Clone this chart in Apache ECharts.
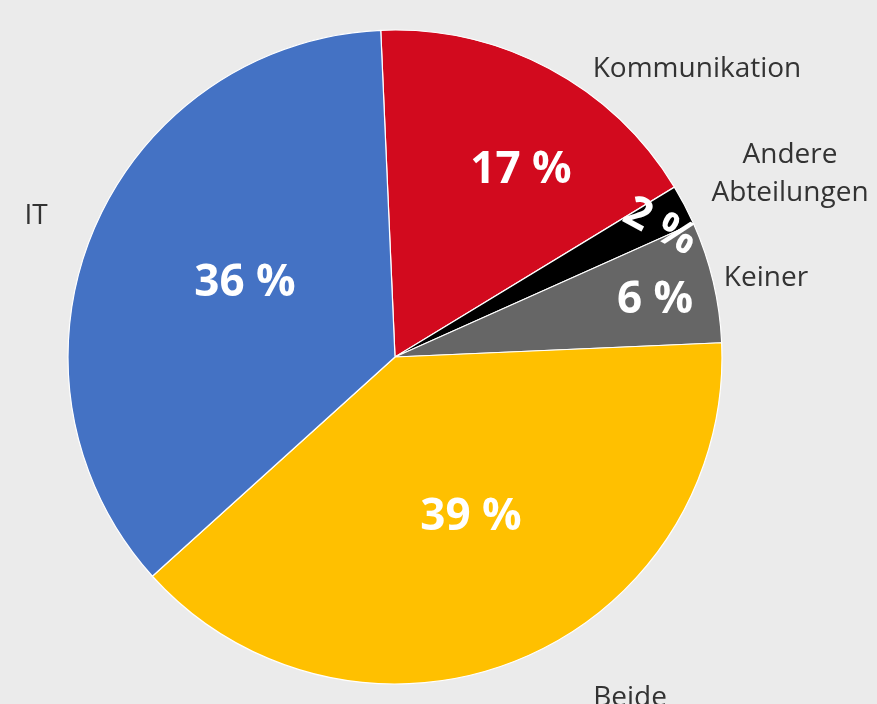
<!DOCTYPE html>
<html>
<head>
<meta charset="utf-8">
<script src="https://cdn.jsdelivr.net/npm/echarts@6/dist/echarts.min.js"></script>
<style>
  html, body { margin: 0; padding: 0; background: #ebebeb; }
  #chart { width: 877px; height: 704px; }
</style>
</head>
<body>
<div id="chart"></div>
<script>
// Anteile (im Uhrzeigersinn ab oben)
const kategorien = ["Kommunikation", "Andere\nAbteilungen", "Keiner", "Beide", "IT"];
const anteile = [17, 2, 6, 39, 36];
const farben = ["#d20a1e", "#000000", "#666666", "#ffc000", "#4472c4"];

// Position der Beschriftungen
const posInnen = [[521, 170], [660, 227], [655, 300], [471, 517], [245, 283]];
const drehungInnen = [0, -28, 0, 0, 0];
const posAussen = [[697, 69], [790, 174], [766, 278], [630, 698], [36, 216]];

const daten = kategorien.map((k, i) => ({
  name: k,
  value: anteile[i],
  itemStyle: { color: farben[i] }
}));

const chart = echarts.init(document.getElementById("chart"));
const option = {
  backgroundColor: "#ebebeb",
  animation: false,
  series: [
    {
      type: "pie",
      center: [395, 357],
      radius: 327,
      startAngle: 92.5,
      clockwise: true,
      avoidLabelOverlap: false,
      data: daten,
      itemStyle: { borderColor: "#ffffff", borderWidth: 1.2 },
      label: {
        show: true,
        position: "inside",
        formatter: p => p.value + " %",
        color: "#ffffff",
        fontFamily: "Open Sans",
        fontWeight: "bold",
        fontSize: 44
      },
      labelLine: { show: false },
      labelLayout: p => ({
        x: posInnen[p.dataIndex][0],
        y: posInnen[p.dataIndex][1],
        align: "center",
        verticalAlign: "middle",
        rotate: drehungInnen[p.dataIndex]
      })
    },
    {
      type: "pie",
      center: [395, 357],
      radius: 327,
      startAngle: 92.5,
      silent: true,
      avoidLabelOverlap: false,
      data: kategorien.map((k, i) => ({ name: k, value: anteile[i] })),
      itemStyle: { color: "transparent", borderWidth: 0 },
      label: {
        show: true,
        position: "outside",
        formatter: "{b}",
        color: "#333333",
        fontFamily: "Open Sans",
        fontSize: 28,
        lineHeight: 38,
        align: "center"
      },
      labelLine: { show: false },
      labelLayout: p => ({
        x: posAussen[p.dataIndex][0],
        y: posAussen[p.dataIndex][1],
        align: "center",
        verticalAlign: "middle"
      })
    }
  ]
};
chart.setOption(option);
</script>
</body>
</html>
